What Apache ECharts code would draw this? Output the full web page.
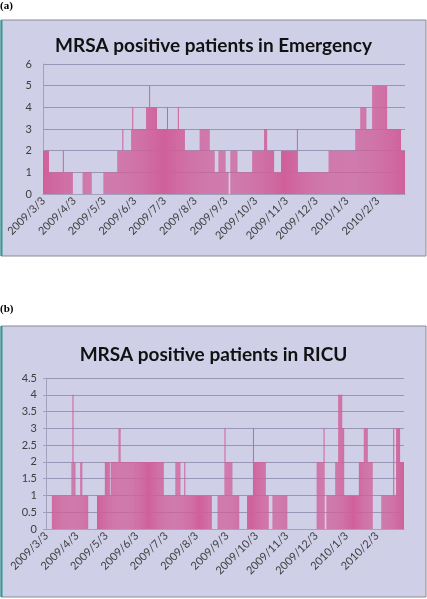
<!DOCTYPE html>
<html><head><meta charset="utf-8">
<script src="https://cdn.jsdelivr.net/npm/echarts@6/dist/echarts.min.js"></script>
<style>html,body{margin:0;padding:0;background:#fff}#c{width:427px;height:599px}</style>
</head><body><div id="c"></div>
<script>
// Daily categories, 2009/3/3 .. 2010/3/2 (365 days)
const startDate = [2009, 3, 3];
const dayCount = 365;
const dates = [];
for (let i = 0; i < dayCount; i++) {
  const d = new Date(Date.UTC(startDate[0], startDate[1] - 1, startDate[2] + i));
  dates.push(d.getUTCFullYear() + '/' + (d.getUTCMonth() + 1) + '/' + d.getUTCDate());
}

// (a) MRSA positive patients in Emergency — daily counts
const emergency = [
  2,2,2,2,2,2,1,1,1,1,
  1,1,1,1,1,1,1,1,1,1,
  2,1,1,1,1,1,1,1,1,1,
  0,0,0,0,0,0,0,0,0,0,
  1,1,1,1,1,1,1,1,1,0,
  0,0,0,0,0,0,0,0,0,0,
  0,1,1,1,1,1,1,1,1,1,
  1,1,1,1,1,2,2,2,2,2,
  3,2,2,2,2,2,2,2,2,3,
  4,3,3,3,3,3,3,3,3,3,
  3,3,3,3,4,4,4,5,4,4,
  4,4,4,4,4,3,3,3,3,3,
  3,3,3,3,3,4,3,3,3,3,
  3,3,3,3,3,3,4,3,3,3,
  3,3,3,2,2,2,2,2,2,2,
  2,2,2,2,2,2,2,2,3,3,
  3,3,3,3,3,3,3,3,2,2,
  2,2,2,1,1,1,1,2,2,2,
  2,2,2,2,1,1,1,0,0,2,
  2,2,2,2,2,2,1,1,1,1,
  1,1,1,1,1,1,1,1,1,1,
  1,2,2,2,2,2,2,2,2,2,
  2,2,2,3,3,3,2,2,2,2,
  2,2,2,1,1,1,1,1,1,1,
  2,2,2,2,2,2,2,2,2,2,
  2,2,2,2,2,2,3,1,1,1,
  1,1,1,1,1,1,1,1,1,1,
  1,1,1,1,1,1,1,1,1,1,
  1,1,1,1,1,1,1,1,2,2,
  2,2,2,2,2,2,2,2,2,2,
  2,2,2,2,2,2,2,2,2,2,
  2,2,2,2,2,3,3,3,3,3,
  4,4,4,4,4,4,3,3,3,3,
  3,3,5,5,5,5,5,5,5,5,
  5,5,5,5,5,5,5,3,3,3,
  3,3,3,3,3,3,3,3,3,3,
  3,2,2,2,2
];

// (b) MRSA positive patients in RICU — daily counts
const ricu = [
  0,0,0,0,0,0,1,1,1,1,
  1,1,1,1,1,1,1,1,1,1,
  1,1,1,1,1,1,2,4,2,2,
  1,1,1,1,1,2,2,1,1,1,
  1,1,1,0,0,0,0,0,0,0,
  0,0,1,1,1,1,1,1,1,1,
  2,2,2,2,2,1,2,2,2,2,
  2,2,2,2,3,3,2,2,2,2,
  2,2,2,2,2,2,2,2,2,2,
  2,2,2,2,2,2,2,2,2,2,
  2,2,2,2,2,2,2,2,2,2,
  2,2,2,2,2,2,2,2,2,2,
  1,1,1,1,1,1,1,1,1,1,
  1,1,2,2,2,2,2,1,1,1,
  1,2,1,1,1,1,1,1,1,1,
  1,1,1,1,1,1,1,1,1,1,
  1,1,1,1,1,1,1,1,1,0,
  0,0,0,0,0,1,1,1,1,1,
  1,1,3,2,2,2,2,2,2,2,
  1,1,1,1,1,1,1,0,0,0,
  0,0,0,0,0,1,1,1,1,1,
  1,3,2,2,2,2,2,2,2,2,
  2,2,2,2,1,1,1,0,0,0,
  0,1,1,1,1,1,1,1,1,1,
  1,1,1,1,1,1,0,0,0,0,
  0,0,0,0,0,0,0,0,0,0,
  0,0,0,0,0,0,0,0,0,0,
  0,0,0,0,0,0,2,2,2,2,
  2,2,2,3,0,0,1,1,1,1,
  1,1,1,1,1,2,2,2,4,4,
  4,4,3,3,1,1,1,1,1,1,
  1,1,1,1,1,1,1,1,1,2,
  2,2,2,2,3,3,3,3,2,2,
  2,2,2,0,0,0,0,0,0,0,
  0,0,1,1,1,1,1,1,1,1,
  1,1,1,1,3,1,1,3,3,3,
  3,2,2,2,2
];

const titleA = 'MRSA positive patients in Emergency';
const titleB = 'MRSA positive patients in RICU';

const panelBg = '#cfcfe8';
const gridColor = '#9896b6';
const barColor = '#d0609a';
const txt = '#404040';
const fontFam = 'Lato, "Open Sans", sans-serif';

function xAxisFor(gi) {
  return {
    type: 'category', gridIndex: gi, data: dates,
    axisTick: { show: false },
    axisLine: { show: true, lineStyle: { color: '#a3a1bd' } },
    axisLabel: {
      rotate: 45, fontSize: 11, color: txt, fontFamily: fontFam, margin: 5,
      interval: function (idx, val) { return String(val).split('/')[2] === '3'; }
    }
  };
}

const chart = echarts.init(document.getElementById('c'), null, { renderer: 'canvas' });
chart.setOption({
  animation: false,
  backgroundColor: '#ffffff',
  graphic: [
    { type: 'text', left: 0, top: 1, style: { text: '(a)', font: 'bold 11px "Liberation Serif", serif', fill: '#000' } },
    { type: 'rect', shape: { x: 1, y: 20, width: 425, height: 236 }, style: { fill: panelBg, stroke: '#8a8a96', lineWidth: 1 }, z: -10 },
    { type: 'line', shape: { x1: 1.5, y1: 20, x2: 1.5, y2: 256 }, style: { stroke: '#2b9a98', lineWidth: 2 }, z: -9 },
    { type: 'text', left: 0, top: 304, style: { text: '(b)', font: 'bold 11px "Liberation Serif", serif', fill: '#000' } },
    { type: 'rect', shape: { x: 1, y: 326, width: 425, height: 271 }, style: { fill: panelBg, stroke: '#8a8a96', lineWidth: 1 }, z: -10 },
    { type: 'line', shape: { x1: 1.5, y1: 326, x2: 1.5, y2: 597 }, style: { stroke: '#2b9a98', lineWidth: 2 }, z: -9 }
  ],
  title: [
    { text: titleA, left: 'center', top: 31, textStyle: { fontFamily: fontFam, fontWeight: 'bold', fontSize: 19, color: '#111' } },
    { text: titleB, left: 'center', top: 340, textStyle: { fontFamily: fontFam, fontWeight: 'bold', fontSize: 19, color: '#111' } }
  ],
  grid: [
    { left: 43, top: 64, width: 362, height: 130 },
    { left: 46, top: 378, width: 358, height: 151 }
  ],
  xAxis: [xAxisFor(0), xAxisFor(1)],
  yAxis: [
    {
      type: 'value', gridIndex: 0, min: 0, max: 6, interval: 1,
      axisLine: { show: true, lineStyle: { color: '#a3a1bd' } },
      axisTick: { show: false },
      splitLine: { lineStyle: { color: gridColor } },
      axisLabel: { fontSize: 11, color: txt, fontFamily: fontFam, margin: 11 }
    },
    {
      type: 'value', gridIndex: 1, min: 0, max: 4.5, interval: 0.5,
      axisLine: { show: true, lineStyle: { color: '#a3a1bd' } },
      axisTick: { show: true, length: 3, lineStyle: { color: '#a3a1bd' } },
      splitLine: { lineStyle: { color: gridColor } },
      axisLabel: { fontSize: 11, color: txt, fontFamily: fontFam, margin: 9 }
    }
  ],
  series: [
    { type: 'bar', xAxisIndex: 0, yAxisIndex: 0, data: emergency, barCategoryGap: '25%', itemStyle: { color: barColor } },
    { type: 'bar', xAxisIndex: 1, yAxisIndex: 1, data: ricu, barCategoryGap: '25%', itemStyle: { color: barColor } }
  ]
});
</script></body></html>
